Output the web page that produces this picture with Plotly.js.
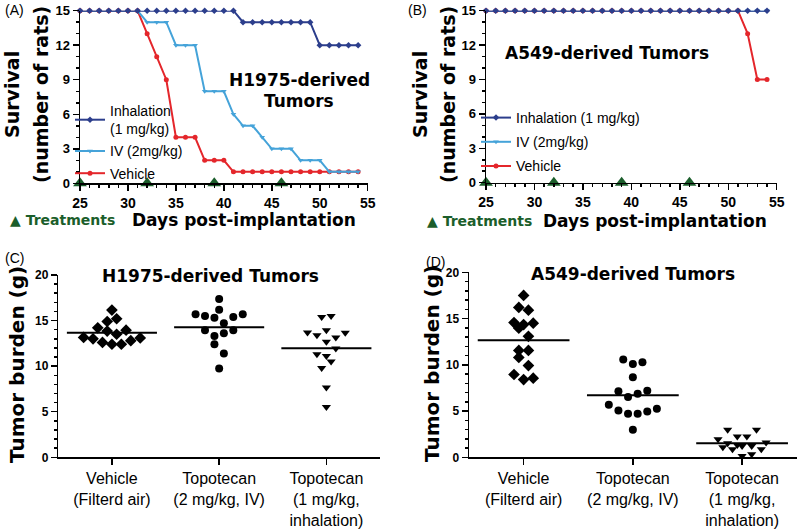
<!DOCTYPE html>
<html><head><meta charset="utf-8">
<script src="https://cdn.plot.ly/plotly-3.0.1.min.js"></script>
<style>html,body{margin:0;padding:0;background:#fff}</style>
</head><body><div id="chart" style="width:800px;height:530px"></div>
<script>
// ---------- Survival data (panels A, B) ----------
const days = [25,26,27,28,29,30,31,32,33,34,35,36,37,38,39,40,41,42,43,44,45,46,47,48,49,50,51,52,53,54];
const aInhalation = [15,15,15,15,15,15,15,15,15,15,15,15,15,15,15,15,15,14,14,14,14,14,14,14,14,12,12,12,12,12];
const aIV         = [15,15,15,15,15,15,15,14,14,14,12,12,12,8,8,8,6,5,5,4,3,3,3,2,2,2,1,1,1,1];
const aVehicle    = [15,15,15,15,15,15,15,13,11,9,4,4,4,2,2,2,1,1,1,1,1,1,1,1,1,1,1,1,1,1];
const bInhalation = [15,15,15,15,15,15,15,15,15,15,15,15,15,15,15,15,15,15,15,15,15,15,15,15,15,15,15,15,15,15];
const bIV         = [15,15,15,15,15,15,15,15,15,15,15,15,15,15,15,15,15,15,15,15,15,15,15,15,15,15,15,15,15,15];
const bVehicle    = [15,15,15,15,15,15,15,15,15,15,15,15,15,15,15,15,15,15,15,15,15,15,15,15,15,15,15,13,9,9];
const treatmentDays = [25,32,39,46];
const treatmentLevel = [0,0,0,0];

// ---------- Tumor burden data (panels C, D) ----------
const groupLabels = ['Vehicle<br>(Filterd air)','Topotecan<br>(2 mg/kg, IV)','Topotecan<br>(1 mg/kg,<br>inhalation)'];
const cVehicle = [16.15,14.9,15.2,14.2,13.85,13.95,13.5,13.15,13.0,12.6,12.4,12.4,12.8,13.1];
const cVehicleSpread = [0,-0.5,0.5,-1.5,-0.5,1.5,0.5,-3,-2,-1,0,1,2,3];
const cIV = [17.36,16.2,15.7,15.5,15.3,15.4,15.7,14.7,13.95,13.95,13.3,13.6,12.4,11.4,9.75];
const cIVSpread = [0,0,-2.5,-1.5,-0.5,1.5,2.5,0.5,-1.5,1.5,-0.5,0.5,-0.5,0.5,0];
const cInh = [15.4,15.5,13.7,13.4,13.95,13.15,13.66,12.67,11.95,11.3,11.1,10.5,9.8,7.66,5.53];
const cInhSpread = [-0.5,0.5,-2,-1,0,1,2,0,1,-1,0,0.5,-0.5,0,0];
const dVehicle = [17.5,16.2,15.9,14.57,14.5,14.35,13.95,13.08,11.55,11.55,10.8,9.92,8.95,8.4,8.55];
const dVehicleSpread = [0,-0.5,0.5,-1,1,0,-0.5,0.5,-0.5,0.5,-0.5,0.5,-1,0,1];
const dIV = [10.58,10.1,10.28,8.65,7.13,7.2,6.88,6.52,5.68,5.25,5.07,4.96,4.7,4.7,2.97];
const dIVSpread = [-1,0,1,0,-1.5,1.5,0.5,-0.5,-2.5,2.5,-1.5,1.5,-0.5,0.5,0];
const dInh = [2.97,2.97,1.96,2.24,2.24,1.52,1.59,1.09,0.87,1.23,1.23,0.87,0.14,0.33,1.34];
const dInhSpread = [-1.5,1.5,-2.5,-0.5,0.5,-1.5,2.5,-2,-1,0,1,2,0,1,-0.5];

// ---------- styling ----------
const FONT = 'Liberation Sans, Arial, Helvetica, sans-serif';
const HEAVY = 'DejaVu Sans, Liberation Sans, sans-serif';
const NAVY = '#2c3e8c', LBLUE = '#45a3d9', RED = '#e4262b', GREEN = '#1b5e2b';
const W = 800, H = 530;
const px = v => v / W, py = v => 1 - v / H;
const SPREAD = 0.088, HALF = 0.42;

const traces = [];
function survival(xa, ya, leg, y, name, color, symbol, rank) {
  traces.push({x: days, y: y, xaxis: xa, yaxis: ya, legend: leg, name: name, legendrank: rank,
    legendgroup: leg + rank,
    type: 'scatter', mode: 'lines+markers', cliponaxis: false,
    line: {color: color, width: 2}, marker: {color: color, symbol: symbol, size: 5}});
}
survival('x','y','legend',aVehicle,'Vehicle',RED,'circle',3);
survival('x','y','legend',aIV,'IV (2mg/kg)',LBLUE,'triangle-down',2);
survival('x','y','legend',aInhalation,'Inhalation<br>(1 mg/kg)',NAVY,'diamond',1);
survival('x2','y2','legend2',bVehicle,'Vehicle',RED,'circle',3);
survival('x2','y2','legend2',bIV,'IV (2mg/kg)',LBLUE,'triangle-down',2);
survival('x2','y2','legend2',bInhalation,'Inhalation (1 mg/kg)',NAVY,'diamond',1);
['x','x2'].forEach((xa,i) => traces.push({x: treatmentDays, y: treatmentLevel, xaxis: xa, yaxis: i ? 'y2' : 'y',
  type: 'scatter', mode: 'markers', showlegend: false, cliponaxis: false,
  marker: {symbol: 'triangle-up', size: 12, color: GREEN}}));

function column(xa, ya, idx, vals, spread, symbol, size) {
  traces.push({x: vals.map((v,i) => idx + spread[i]*SPREAD), y: vals, xaxis: xa, yaxis: ya,
    type: 'scatter', mode: 'markers', showlegend: false, cliponaxis: false,
    marker: {symbol: symbol, size: size, color: '#000'}});
  const m = vals.reduce((a,b) => a+b, 0) / vals.length;
  traces.push({x: [idx-HALF, idx+HALF], y: [m, m], xaxis: xa, yaxis: ya, type: 'scatter', mode: 'lines',
    showlegend: false, line: {color: '#000', width: 2}});
}
column('x3','y3',0,cVehicle,cVehicleSpread,'diamond',9);
column('x3','y3',1,cIV,cIVSpread,'circle',8);
column('x3','y3',2,cInh,cInhSpread,'triangle-down',8);
column('x4','y4',0,dVehicle,dVehicleSpread,'diamond',9);
column('x4','y4',1,dIV,dIVSpread,'circle',8);
column('x4','y4',2,dInh,dInhSpread,'triangle-down',8);

const axBase = {showline: true, linecolor: '#000', linewidth: 1.5, showgrid: false, zeroline: false,
  ticks: 'outside', ticklen: 6, tickwidth: 1.5, tickcolor: '#000', fixedrange: true};
const survX = (dom, anchor) => Object.assign({}, axBase, {domain: dom, anchor: anchor, range: [25,55],
  tick0: 25, dtick: 5, minor: {dtick: 1, ticks: 'outside', ticklen: 3, tickcolor: '#000'},
  tickfont: {family: FONT, size: 14, color: '#000', weight: 'bold'}});
const survY = (dom, anchor) => Object.assign({}, axBase, {domain: dom, anchor: anchor, range: [0,15],
  tick0: 0, dtick: 3, minor: {dtick: 1, ticks: 'outside', ticklen: 3, tickcolor: '#000'},
  tickfont: {family: FONT, size: 13, color: '#000', weight: 'bold'}});
const colX = (dom, anchor) => Object.assign({}, axBase, {domain: dom, anchor: anchor, range: [-0.5,2.5],
  tickvals: [0,1,2], ticktext: groupLabels, tickfont: {family: FONT, size: 16, color: '#000'}});
const colY = (dom, anchor) => Object.assign({}, axBase, {domain: dom, anchor: anchor, range: [0,20],
  tick0: 0, dtick: 5, minor: {dtick: 1, ticks: 'outside', ticklen: 3, tickcolor: '#000'},
  tickfont: {family: FONT, size: 12, color: '#000', weight: 'bold'}});

function ann(text, x, y, size, opts) {
  return Object.assign({text: text, x: px(x), y: py(y), xref: 'paper', yref: 'paper', showarrow: false,
    xanchor: 'center', yanchor: 'middle', font: {family: HEAVY, size: size, color: '#000', weight: 'bold'}}, opts || {});
}
const plain = {family: FONT, size: 14, color: '#000'};
const annotations = [
  ann('(A)', 3, 10, 14, {xanchor: 'left', font: plain}),
  ann('(B)', 406, 10, 14, {xanchor: 'left', font: plain}),
  ann('(C)', 3, 258, 14, {xanchor: 'left', font: plain}),
  ann('(D)', 424, 262, 14, {xanchor: 'left', font: plain}),
  ann('H1975-derived', 299, 80, 17),
  ann('Tumors', 299, 101, 17),
  ann('A549-derived Tumors', 607, 53, 17),
  ann('H1975-derived Tumors', 210, 276, 17),
  ann('A549-derived Tumors', 633, 274, 17),
  ann('Survival', 12, 95, 19, {textangle: -90}),
  ann('(number of rats)', 41, 95, 19, {textangle: -90}),
  ann('Survival', 420, 95, 19, {textangle: -90}),
  ann('(number of rats)', 448, 95, 19, {textangle: -90}),
  ann('Tumor burden (g)', 17, 365, 20, {textangle: -90}),
  ann('Tumor burden (g)', 432, 364, 20, {textangle: -90}),
  ann('Days post-implantation', 244, 220, 17),
  ann('Days post-implantation', 655, 221, 17),
  ann('\u25B2 Treatments', 8, 220, 15, {xanchor: 'left', font: {family: HEAVY, size: 14, color: GREEN, weight: 'bold'}}),
  ann('\u25B2 Treatments', 425, 221, 15, {xanchor: 'left', font: {family: HEAVY, size: 14, color: GREEN, weight: 'bold'}})
];

const legendBase = {bgcolor: 'rgba(0,0,0,0)', font: {family: FONT, size: 14, color: '#000'},
  xanchor: 'left', yanchor: 'top', traceorder: 'grouped', itemclick: false, itemdoubleclick: false};

const layout = {
  width: W, height: H, margin: {l: 0, r: 0, t: 0, b: 0},
  paper_bgcolor: '#fff', plot_bgcolor: 'rgba(0,0,0,0)',
  font: {family: FONT, color: '#000'},
  xaxis: survX([px(80), px(367.7)], 'y'),
  yaxis: survY([py(183.3), py(10.7)], 'x'),
  xaxis2: survX([px(486), px(776.7)], 'y2'),
  yaxis2: survY([py(182.7), py(10.7)], 'x2'),
  xaxis3: colX([px(58.3), px(380)], 'y3'),
  yaxis3: colY([py(457.3), py(275)], 'x3'),
  xaxis4: colX([px(469), px(796.7)], 'y4'),
  yaxis4: colY([py(457.3), py(272.3)], 'x4'),
  legend: Object.assign({}, legendBase, {x: px(70), y: py(95), tracegroupgap: 1}),
  legend2: Object.assign({}, legendBase, {x: px(476), y: py(102), tracegroupgap: 3}),
  annotations: annotations
};

Plotly.newPlot('chart', traces, layout, {displayModeBar: false, staticPlot: true});
</script>
</body></html>
